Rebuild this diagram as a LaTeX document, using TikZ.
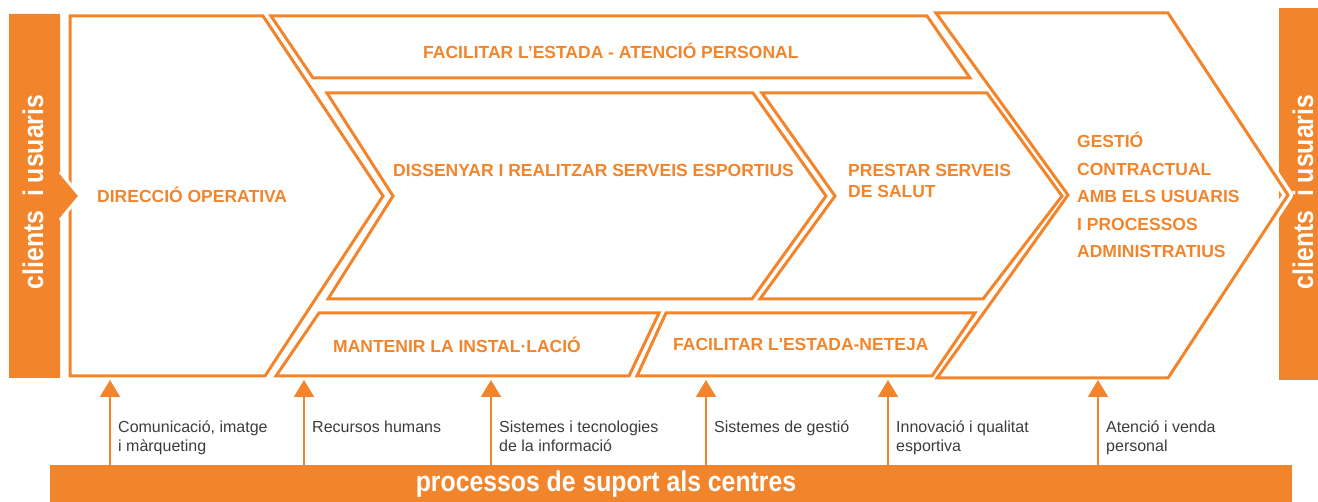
\documentclass[tikz,border=0pt]{standalone}
\usepackage{fontspec}
\setmainfont{Liberation Sans}
\usepackage{graphicx}
\usepackage{tikz}
\usetikzlibrary{arrows.meta}
\definecolor{taronja}{RGB}{242,133,44}
\definecolor{gristext}{RGB}{60,60,60}

\begin{document}
\begin{tikzpicture}[x=1pt, y=-1pt,
        proces/.style={draw=taronja, line width=3pt},
        titol/.style={text=taronja, font=\bfseries\fontsize{17.5}{21}\selectfont, align=left, inner sep=0pt, anchor=base west},
        fletxa/.style={draw=taronja, line width=2pt, -{Triangle[width=20pt, length=17pt]}},
        etiqueta/.style={text=gristext, font=\fontsize{16}{19}\selectfont, align=left, inner sep=0pt, anchor=base west},
        barra/.style={text=white, font=\bfseries\fontsize{28.5}{30}\selectfont, inner sep=0pt}]
    \useasboundingbox (0,0) rectangle (1318,502);

    % barres de sortida i de suport
    \fill[taronja] (1279,8) rectangle (1318,380);
    \node [barra, rotate=90, anchor=base] (sortida) at (1313,192) {\scalebox{0.87}[1]{clients\hspace{8pt} i usuaris}};
    \node [fill=taronja, minimum width=1242pt, minimum height=37pt, inner sep=0pt] (suport) at (671,483.5) {};
    \node [barra, anchor=base] (suportText) at (606,492) {\scalebox{0.87}[1]{processos de suport als centres}};

    \draw [white, line width=10pt, line join=round] (1168,13) -- (1288,195) -- (1168,378);

    % processos
    \draw [proces] (70,16) -- (263,16) -- (383,196) -- (265,376) -- (70,376) -- cycle;
    \draw [proces] (271,16) -- (927,16) -- (970,78) -- (313,78) -- cycle;
    \draw [proces] (327,93) -- (753,93) -- (826,196) -- (752,299) -- (328,299) -- (393,196) -- cycle;
    \draw [proces] (762,93) -- (987,93) -- (1062,196) -- (983,299) -- (760,299) -- (835,196) -- cycle;
    \draw [proces] (936,13) -- (1168,13) -- (1288,195) -- (1168,378) -- (937,378) -- (1068,195) -- cycle;
    \draw [proces] (319,313) -- (659,313) -- (629,376) -- (276,376) -- cycle;
    \draw [proces] (666,313) -- (975,313) -- (932,376) -- (637,376) -- cycle;

    % (base = darrera linia)
    \node [titol] (direccio) at (97,203) {DIRECCIÓ OPERATIVA};
    \node [titol] (atencio) at (423,59) {FACILITAR L’ESTADA - ATENCIÓ PERSONAL};
    \node [titol] (esportius) at (393,177) {DISSENYAR I REALITZAR SERVEIS ESPORTIUS};
    \node [titol] (salut) at (848,198) {PRESTAR SERVEIS\\DE SALUT};
    \node [titol, font=\bfseries\fontsize{17.5}{27.5}\selectfont] (gestio) at (1077,258) {GESTIÓ\\CONTRACTUAL\\AMB ELS USUARIS\\I PROCESSOS\\ADMINISTRATIUS};
    \node [titol] (manteniment) at (333,353) {MANTENIR LA INSTAL·LACIÓ};
    \node [titol] (neteja) at (673,351) {FACILITAR L\textquotesingle ESTADA-NETEJA};

    % entrada
    \fill [taronja] (9,14) -- (60,14) -- (60,172) -- (80,196) -- (60,220) -- (60,378) -- (9,378) -- cycle;
    \draw [white, line width=3pt] (60,172) -- (80,196) -- (60,220);
    \node [barra, rotate=90, anchor=base] (entrada) at (43,192) {\scalebox{0.87}[1]{clients\hspace{8pt} i usuaris}};

    % suport
    \foreach \x/\y/\txt [count=\n] in {110/452/{Comunicació, imatge\\i màrqueting}, 304/433/{Recursos humans},
            491/452/{Sistemes i tecnologies\\de la informació}, 706/433/{Sistemes de gestió},
            888/452/{Innovació i qualitat\\esportiva}, 1098/452/{Atenció i venda\\personal}} {
        \coordinate (punta\n) at (\x,380);
        \draw [fletxa] (suport.north -| punta\n) -- (punta\n);
        \node [etiqueta] (etiqueta\n) at (\x+8,\y) {\txt};
    }
\end{tikzpicture}
\end{document}
